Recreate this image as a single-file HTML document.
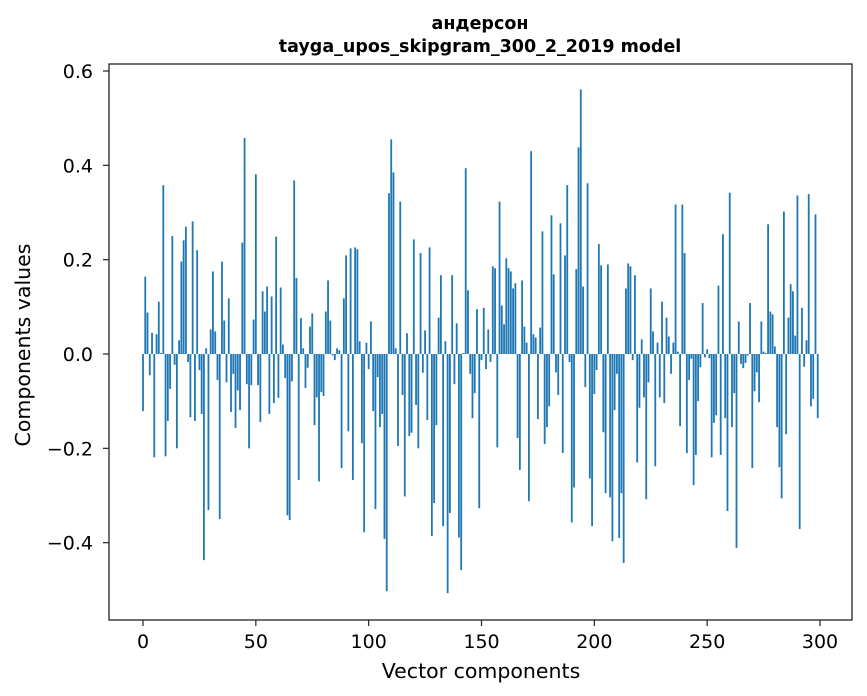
<!DOCTYPE html>
<html><head><meta charset="utf-8">
<style>
html,body{margin:0;padding:0;background:#fff;}
svg{display:block;font-family:"DejaVu Sans","Liberation Sans",sans-serif;}
</style></head>
<body>
<svg id="chart" width="867" height="696" viewBox="0 0 867 696">
<rect width="867" height="696" fill="#fff"/>
<text x="480" y="29" text-anchor="middle" font-size="17.5" font-weight="bold">андерсон</text>
<text x="480" y="52" text-anchor="middle" font-size="17.5" font-weight="bold">tayga_upos_skipgram_300_2_2019 model</text>
<g id="bars"></g>
<g id="axes"></g>
<text x="481" y="678" text-anchor="middle" font-size="20.5">Vector components</text>
<text x="0" y="0" transform="translate(30,345) rotate(-90)" text-anchor="middle" font-size="20.5">Components values</text>
</svg>
<script>
const values = [
-0.121,0.164,0.088,-0.045,0.045,-0.219,0.042,0.111,0.002,0.358,
-0.217,-0.142,-0.074,0.25,-0.023,-0.2,0.029,0.196,0.241,0.27,
-0.017,-0.134,0.281,-0.142,0.22,-0.034,-0.127,-0.437,0.012,-0.331,
0.052,0.175,0.048,-0.055,-0.35,0.196,0.071,-0.06,0.118,-0.123,
-0.042,-0.157,-0.077,-0.119,0.236,0.458,-0.064,-0.2,-0.066,0.073,
0.381,-0.066,-0.144,0.133,0.09,0.143,-0.127,0.122,-0.104,0.249,
-0.093,0.141,0.02,-0.051,-0.342,-0.352,-0.058,0.368,0.161,-0.267,
0.076,0.012,-0.072,-0.029,0.058,0.086,-0.151,-0.092,-0.27,-0.081,
-0.089,0.09,0.156,0.071,-0.003,-0.013,0.012,0.008,-0.242,0.118,
0.209,-0.164,0.224,-0.267,0.226,0.222,0.027,-0.189,-0.378,0.024,
-0.032,0.069,-0.121,-0.329,-0.049,-0.155,-0.127,-0.392,-0.503,0.341,
0.455,0.385,0.012,-0.195,0.323,-0.087,-0.302,0.044,-0.174,-0.167,
0.243,-0.108,-0.2,0.214,-0.04,0.05,-0.14,0.226,-0.386,-0.316,
-0.151,0.077,0.167,-0.365,0.027,-0.507,-0.337,0.167,-0.064,0.065,
-0.389,-0.458,0.002,0.394,0.135,-0.042,-0.136,-0.083,0.095,-0.327,
-0.013,0.098,-0.032,0.052,-0.017,0.186,0.182,-0.198,0.323,0.103,
0.063,0.203,0.182,0.175,0.139,0.15,-0.178,-0.246,0.156,0.058,
0.024,-0.312,0.43,0.042,0.035,-0.138,0.056,0.26,-0.191,-0.155,
-0.111,0.294,0.169,-0.039,-0.087,0.277,-0.21,0.209,0.358,-0.017,
-0.357,-0.283,0.18,0.438,0.561,0.143,-0.07,0.362,-0.264,-0.365,
-0.085,-0.034,0.233,0.188,-0.166,-0.295,0.19,-0.304,-0.397,-0.119,
-0.042,-0.39,-0.295,-0.443,0.139,0.192,0.186,-0.013,0.167,-0.23,
-0.114,0.031,-0.092,-0.308,-0.06,0.139,0.048,-0.238,0.024,-0.092,
0.111,-0.104,0.077,0.037,-0.042,0.024,0.317,0.005,-0.153,0.317,
0.214,-0.21,-0.055,-0.01,-0.278,-0.214,-0.1,-0.028,0.108,-0.007,
0.01,-0.009,-0.219,-0.146,-0.13,0.145,-0.214,0.254,-0.136,-0.333,
0.342,-0.155,-0.083,-0.411,0.069,-0.021,-0.03,-0.019,-0.003,0.108,
-0.242,-0.079,-0.039,-0.102,0.069,0.005,0.002,0.275,0.09,0.084,
0.016,-0.155,-0.24,-0.306,0.302,-0.17,0.077,0.148,0.133,0.039,
0.336,-0.371,0.098,-0.027,0.029,0.339,-0.111,-0.095,0.296,-0.136
];
const xTicks = [0,50,100,150,200,250,300];
const yTicks = [-0.4,-0.2,0.0,0.2,0.4,0.6];
const yTickLabels = ["\u22120.4","\u22120.2","0.0","0.2","0.4","0.6"];

const NS="http://www.w3.org/2000/svg";
const L=109,R=852,T=64,B=620;
function xs(v){return 143+v*(820-143)/300;}
function ys(v){return 354-v*(354-71)/0.6;}
const barsG=document.getElementById('bars');
const axesG=document.getElementById('axes');
values.forEach((v,i)=>{
  const r=document.createElementNS(NS,'rect');
  const y0=ys(0),y1=ys(v);
  const w=xs(0.8)-xs(0);
  r.setAttribute('x',xs(i)-w/2);
  r.setAttribute('y',Math.min(y0,y1));
  r.setAttribute('width',w);
  r.setAttribute('height',Math.max(Math.abs(y1-y0),0.3));
  r.setAttribute('fill','#1f77b4');
  
  
  barsG.appendChild(r);
});
const frame=document.createElementNS(NS,'rect');
frame.setAttribute('x',L);frame.setAttribute('y',T);
frame.setAttribute('width',R-L);frame.setAttribute('height',B-T);
frame.setAttribute('fill','none');frame.setAttribute('stroke','#222');frame.setAttribute('stroke-width','1.3');


axesG.appendChild(frame);
xTicks.forEach(t=>{
  const x=xs(t);
  const ln=document.createElementNS(NS,'line');
  ln.setAttribute('x1',x);ln.setAttribute('x2',x);ln.setAttribute('y1',B);ln.setAttribute('y2',B+6);
  ln.setAttribute('stroke','#222');ln.setAttribute('stroke-width','1.2');
  
  
  axesG.appendChild(ln);
  const tx=document.createElementNS(NS,'text');
  tx.setAttribute('x',x);tx.setAttribute('y',B+28);tx.setAttribute('text-anchor','middle');tx.setAttribute('font-size','19');
  tx.textContent=String(t);
  
  
  axesG.appendChild(tx);
});
yTicks.forEach((t,k)=>{
  const y=ys(t);
  const ln=document.createElementNS(NS,'line');
  ln.setAttribute('x1',L-6);ln.setAttribute('x2',L);ln.setAttribute('y1',y);ln.setAttribute('y2',y);
  ln.setAttribute('stroke','#222');ln.setAttribute('stroke-width','1.2');
  
  
  axesG.appendChild(ln);
  const tx=document.createElementNS(NS,'text');
  tx.setAttribute('x',L-16);tx.setAttribute('y',y+7);tx.setAttribute('text-anchor','end');tx.setAttribute('font-size','19');
  tx.textContent=yTickLabels[k];
  
  
  axesG.appendChild(tx);
});
</script>
</body></html>
